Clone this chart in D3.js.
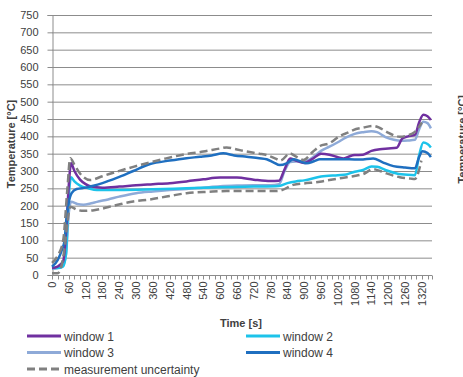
<!DOCTYPE html>
<html>
<head>
<meta charset="utf-8">
<script src="https://cdn.jsdelivr.net/npm/d3@7"></script>
<style>
  html, body { margin: 0; padding: 0; background: #fff; overflow: hidden; }
  svg { display: block; }
  text { font-family: "Liberation Sans", Arial, sans-serif; fill: #404040; }
</style>
</head>
<body>
<svg id="chart" width="463" height="377"></svg>
<script>
// Temperature measurements per window, [time s, temperature °C]
const window1 = [[0,20],[20,24],[40,40],[50,120],[60,260],[68,322],[80,300],[100,275],[120,262],[140,255],[180,252],[240,255],[300,259],[360,262],[420,265],[480,270],[540,276],[600,281],[660,281],[720,275],[780,271],[810,272],[830,305],[850,336],[870,330],[900,323],[930,335],[960,350],[990,347],[1020,340],[1040,336],[1060,342],[1080,346],[1110,347],[1140,358],[1170,363],[1200,365],[1230,367],[1250,394],[1270,400],[1295,404],[1310,440],[1325,462],[1340,458],[1352,447]];
const window2 = [[0,20],[20,20],[40,25],[50,60],[58,200],[68,282],[80,270],[100,258],[130,250],[160,245],[240,245],[360,247],[480,250],[600,253],[720,255],[810,257],[840,265],[870,270],[900,273],[960,284],[1020,288],[1050,290],[1080,298],[1110,303],[1140,313],[1160,312],[1190,303],[1230,293],[1270,289],[1295,288],[1310,345],[1325,382],[1340,378],[1352,368]];
const window3 = [[0,18],[20,20],[40,30],[50,60],[60,180],[68,211],[90,205],[112,203],[140,207],[160,211],[200,218],[240,226],[300,236],[360,241],[420,245],[480,248],[540,252],[600,256],[660,258],[720,259],[780,259],[810,262],[830,300],[850,326],[880,328],[910,330],[940,345],[960,358],[990,370],[1020,383],[1050,397],[1080,407],[1110,412],[1140,415],[1160,412],[1190,398],[1220,390],[1245,387],[1270,388],[1295,390],[1310,420],[1325,442],[1340,438],[1352,423]];
const window4 = [[0,24],[20,43],[35,72],[45,100],[52,168],[60,210],[70,236],[88,248],[120,252],[140,256],[180,265],[231,280],[290,300],[350,320],[420,330],[480,337],[528,341],[570,345],[611,351],[650,345],[695,341],[740,337],[766,334],[790,325],[813,317],[837,322],[861,334],[885,328],[909,322],[935,328],[956,334],[1000,334],[1060,334],[1100,333],[1146,336],[1180,325],[1218,314],[1260,310],[1295,308],[1310,340],[1322,357],[1340,352],[1352,340]];
// Measurement uncertainty band (upper and lower bound)
const uncertaintyUpper = [[0,35],[20,55],[40,100],[55,250],[65,337],[80,318],[100,293],[136,274],[180,285],[231,298],[290,312],[350,325],[400,335],[480,349],[540,356],[600,365],[623,368],[660,362],[695,356],[740,350],[766,346],[800,335],[815,330],[849,351],[870,342],[897,332],[930,355],[956,372],[990,380],[1027,401],[1060,412],[1075,418],[1110,425],[1146,430],[1170,424],[1194,413],[1241,399],[1270,403],[1295,413],[1320,440]];
const uncertaintyLower = [[0,5],[20,5],[35,30],[45,80],[55,150],[65,197],[90,188],[112,185],[150,187],[231,202],[290,212],[350,218],[420,228],[480,236],[560,240],[623,242],[700,242],[780,242],[813,243],[840,252],[861,260],[900,264],[956,269],[990,274],[1027,279],[1075,285],[1110,291],[1146,305],[1170,300],[1194,293],[1241,282],[1280,278],[1295,277],[1318,330]];

const yTicks = d3.range(0, 751, 50);
const xLabelTicks = d3.range(0, 1321, 60);
const xMinorTicks = d3.range(0, 1341, 20);
const seriesNames = ["window 1", "window 2", "window 3", "window 4", "measurement uncertainty"];

const svg = d3.select("#chart");
const plotLeft = 52, plotRight = 432, plotTop = 15, plotBottom = 275;

const x = d3.scaleLinear().domain([0, 1356]).range([plotLeft, plotRight]);
const y = d3.scaleLinear().domain([0, 750]).range([plotBottom, plotTop]);

// Horizontal gridlines
svg.append("g").selectAll("line").data(yTicks).join("line")
  .attr("x1", plotLeft).attr("x2", plotRight)
  .attr("y1", d => y(d) + 0.5).attr("y2", d => y(d) + 0.5)
  .attr("stroke", "#8c8c8c").attr("stroke-width", 1);

// Y axis
const yAxis = svg.append("g").attr("transform", `translate(${plotLeft + 0.5},0)`)
  .call(d3.axisLeft(y).tickValues(yTicks).tickSize(5).tickPadding(9));
yAxis.select(".domain").attr("stroke", "#8c8c8c");
yAxis.selectAll(".tick line").attr("stroke", "#8c8c8c");
yAxis.selectAll(".tick text").style("font-size", "11px").attr("fill", "#404040")
  .style("font-family", "'Liberation Sans', Arial, sans-serif");

// X axis: tick every 20 s, labelled every 60 s
const xAxis = svg.append("g").attr("transform", `translate(0,${plotBottom + 0.5})`);
xAxis.append("line").attr("x1", plotLeft).attr("x2", plotRight).attr("stroke", "#8c8c8c");
xAxis.selectAll("line.tk").data(xMinorTicks.concat([1356])).join("line")
  .attr("class", "tk")
  .attr("x1", d => Math.round(x(d)) + 0.5).attr("x2", d => Math.round(x(d)) + 0.5)
  .attr("y1", 0).attr("y2", 4).attr("stroke", "#8c8c8c");
xAxis.selectAll("text").data(xLabelTicks).join("text")
  .attr("transform", d => `translate(${x(d) + 4},6) rotate(-90)`)
  .attr("text-anchor", "end")
  .style("font-size", "11px")
  .text(d => d);

// Axis titles
svg.append("text").attr("x", 241).attr("y", 327)
  .attr("text-anchor", "middle").style("font-size", "11px").style("font-weight", "bold")
  .attr("fill", "#262626").text("Time [s]");
svg.append("text").attr("transform", "translate(15,144) rotate(-90)")
  .attr("text-anchor", "middle").style("font-size", "11px").style("font-weight", "bold")
  .attr("fill", "#262626").text("Temperature [°C]");
// Neighbouring panel's axis title at the right edge
svg.append("text").attr("transform", "translate(466,95) rotate(-90)")
  .attr("text-anchor", "end").style("font-size", "11px").style("font-weight", "bold")
  .attr("fill", "#262626").text("Temperature [°C]");

const line = d3.line().x(d => x(d[0])).y(d => y(d[1])).curve(d3.curveMonotoneX);

const styles = [
  { data: window3, color: "#8eaad8", dash: null },
  { data: window2, color: "#1cc3ea", dash: null },
  { data: window1, color: "#7030a0", dash: null },
  { data: window4, color: "#1f6fc0", dash: null },
  { data: uncertaintyUpper, color: "#808080", dash: "8,4" },
  { data: uncertaintyLower, color: "#808080", dash: "8,4" }
];
svg.append("g").selectAll("path").data(styles).join("path")
  .attr("d", d => line(d.data))
  .attr("fill", "none")
  .attr("stroke", d => d.color)
  .attr("stroke-width", 2.5)
  .attr("stroke-linejoin", "round")
  .attr("stroke-dasharray", d => d.dash);

// Legend
const legendItems = [
  { name: seriesNames[0], color: "#7030a0", dash: null, lx: 27, ly: 336 },
  { name: seriesNames[1], color: "#1cc3ea", dash: null, lx: 246, ly: 336 },
  { name: seriesNames[2], color: "#8eaad8", dash: null, lx: 27, ly: 352.5 },
  { name: seriesNames[3], color: "#1f6fc0", dash: null, lx: 246, ly: 352.5 },
  { name: seriesNames[4], color: "#808080", dash: "8,4", lx: 27, ly: 369 }
];
const lg = svg.append("g").selectAll("g").data(legendItems).join("g")
  .attr("transform", d => `translate(${d.lx},${d.ly})`);
lg.append("line").attr("x1", 0).attr("x2", 34).attr("y1", 0).attr("y2", 0)
  .attr("stroke", d => d.color).attr("stroke-width", 3)
  .attr("stroke-dasharray", d => d.dash);
lg.append("text").attr("x", 37).attr("y", 4.5).style("font-size", "12px").text(d => d.name);
</script>
</body>
</html>
